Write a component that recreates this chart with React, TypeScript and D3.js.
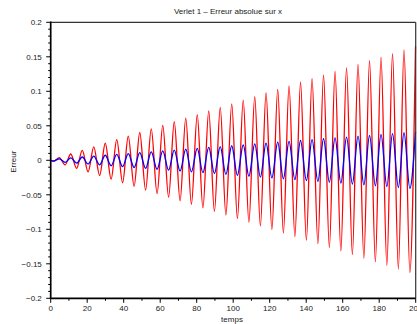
import React from "react";
import * as d3 from "d3";

// Extremum times (shared by both series) and values
const extremaTimes = [
  0, 1.6, 4.7, 7.9, 11.0, 14.2, 17.3, 20.5, 23.6, 26.8, 29.9, 33.1, 36.2, 39.4, 42.5, 45.7, 48.8,
  52.0, 55.1, 58.3, 61.4, 64.6, 67.7, 70.9, 74.0, 77.1, 80.3, 83.4, 86.6, 89.7, 92.9, 96.0,
  99.2, 102.3, 105.5, 108.6, 111.8, 114.9, 118.0, 121.2, 124.4, 127.5, 130.6, 133.8, 136.9,
  140.1, 143.2, 146.4, 149.5, 152.7, 155.8, 159.0, 162.1, 165.3, 168.4, 171.6, 174.7, 177.9,
  181.0, 184.2, 187.3, 190.5, 193.6, 196.8, 199.9,
];

const redValues = [
  0, -0.0013, 0.0039, -0.0065, 0.0091, -0.0117, 0.0143, -0.0169, 0.0195, -0.0221, 0.0247,
  -0.0273, 0.0299, -0.0325, 0.0351, -0.0377, 0.0403, -0.043, 0.0455, -0.0482, 0.0507,
  -0.0534, 0.0559, -0.0586, 0.0611, -0.0637, 0.0663, -0.0689, 0.0715, -0.0741, 0.0767,
  -0.0793, 0.0819, -0.0845, 0.0871, -0.0897, 0.0923, -0.0949, 0.0975, -0.1001, 0.1027,
  -0.1053, 0.1079, -0.1105, 0.1131, -0.1157, 0.1183, -0.1209, 0.1235, -0.1261, 0.1287,
  -0.1313, 0.1339, -0.1365, 0.1391, -0.1417, 0.1443, -0.1469, 0.1495, -0.1521, 0.1547,
  -0.1574, 0.1599, -0.1626, 0.1651,
];

const blueValues = [
  0, -0.001, 0.0022, -0.0029, 0.0035, -0.0041, 0.0048, -0.0054, 0.006, -0.0067, 0.0073,
  -0.0079, 0.0085, -0.0092, 0.0098, -0.0104, 0.0111, -0.0117, 0.0123, -0.013, 0.0136,
  -0.0142, 0.0148, -0.0155, 0.0161, -0.0167, 0.0174, -0.018, 0.0186, -0.0192, 0.0199,
  -0.0205, 0.0211, -0.0218, 0.0224, -0.023, 0.0237, -0.0243, 0.0249, -0.0255, 0.0262,
  -0.0268, 0.0274, -0.0281, 0.0287, -0.0293, 0.0299, -0.0306, 0.0312, -0.0318, 0.0325,
  -0.0331, 0.0337, -0.0344, 0.035, -0.0356, 0.0362, -0.0369, 0.0375, -0.0381, 0.0388,
  -0.0394, 0.04, -0.0407, 0.0413,
];

const xTicks = [0, 20, 40, 60, 80, 100, 120, 140, 160, 180, 200];
const yTicks = [-0.2, -0.15, -0.1, -0.05, 0, 0.05, 0.1, 0.15, 0.2];
const yTickLabels = ["\u22120.2", "\u22120.15", "\u22120.1", "\u22120.05", "0", "0.05", "0.1", "0.15", "0.2"];

const title = "Verlet 1 \u2013 Erreur absolue sur x";
const xLabel = "temps";
const yLabel = "Erreur";

const W = 417;
const H = 324;
const L = 50.7;
const R = 415.7;
const T = 22.3;
const B = 298.3;
const FONT = "'Liberation Sans', Arial, Helvetica, sans-serif";

export default function App() {
  const x = d3.scaleLinear().domain([0, 200]).range([L, R]);
  const y = d3.scaleLinear().domain([-0.2, 0.2]).range([B, T]);

  const line = d3
    .line<number>()
    .x((_, i) => x(extremaTimes[i]))
    .y((d) => y(d))
    .curve(d3.curveMonotoneX);

  const xMinor = d3.range(10, 200, 20);
  const yMinor = d3.range(-20, 21, 1).map((v) => v / 100).filter((v) => Math.abs(Math.round(v * 100) % 5) !== 0);

  return (
    <svg width={W} height={H} style={{ position: "absolute", left: 0, top: 0, background: "#fff" }}>
      <rect x={0} y={0} width={W} height={H} fill="#fff" />
      {/* data */}
      <path d={line(redValues) || ""} fill="none" stroke="#ff0000" strokeWidth={1.3} />
      <path d={line(blueValues) || ""} fill="none" stroke="#0000ff" strokeWidth={1.3} />

      {/* frame: top & right */}
      <line x1={L} x2={R} y1={T} y2={T} stroke="#333" strokeWidth={1.2} />
      <line x1={R} x2={R} y1={T} y2={B} stroke="#333" strokeWidth={1.2} />
      {/* axes */}
      <line x1={L} x2={L} y1={T - 0.8} y2={B + 0.8} stroke="#000" strokeWidth={1.7} />
      <line x1={L - 0.8} x2={R} y1={B} y2={B} stroke="#000" strokeWidth={1.7} />

      {/* y ticks */}
      {yTicks.map((v, i) => (
        <g key={"yt" + i}>
          <line x1={L - 4.5} x2={L} y1={y(v)} y2={y(v)} stroke="#000" strokeWidth={1} />
          <text
            x={41.8}
            y={y(v)}
            dy="0.35em"
            textAnchor="end"
            fontFamily={FONT}
            fontSize={8}
            fill="#222"
          >
            {yTickLabels[i]}
          </text>
        </g>
      ))}
      {yMinor.map((v, i) => (
        <line key={"ym" + i} x1={L - 2.5} x2={L} y1={y(v)} y2={y(v)} stroke="#000" strokeWidth={1} />
      ))}

      {/* x ticks */}
      {xTicks.map((v, i) => (
        <g key={"xt" + i}>
          <line x1={x(v)} x2={x(v)} y1={B} y2={B + 4.5} stroke="#000" strokeWidth={1} />
          <text x={x(v)} y={311.2} textAnchor="middle" fontFamily={FONT} fontSize={8} fill="#222">
            {v}
          </text>
        </g>
      ))}
      {xMinor.map((v, i) => (
        <line key={"xm" + i} x1={x(v)} x2={x(v)} y1={B} y2={B + 2.5} stroke="#000" strokeWidth={1} />
      ))}

      {/* labels */}
      <text x={228} y={14} textAnchor="middle" fontFamily={FONT} fontSize={8} fill="#222">
        {title}
      </text>
      <text x={232} y={321.5} textAnchor="middle" fontFamily={FONT} fontSize={8} fill="#222">
        {xLabel}
      </text>
      <text
        transform="translate(15.6,161.7) rotate(-90)"
        textAnchor="middle"
        fontFamily={FONT}
        fontSize={8}
        fill="#222"
      >
        {yLabel}
      </text>
    </svg>
  );
}
